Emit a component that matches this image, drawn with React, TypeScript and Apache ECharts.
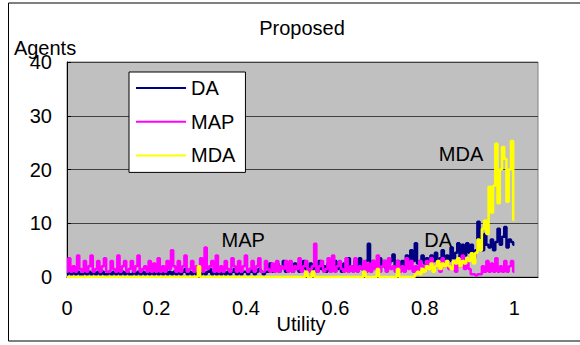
import React, { useEffect, useRef } from "react";
import * as echarts from "echarts";

// Utility grid: 201 bins from 0 to 1 (step 0.005)
const binCount = 201;

// Number of agents per utility bin
const DA = [
  0.5, 1, 0.5, 1, 0.5, 1, 0.5, 0.5, 1, 0.5,
  1, 0.5, 1, 0.5, 1, 0.5, 1, 0.5, 0.5, 1,
  0.5, 1, 0.5, 1, 0.5, 1, 0.5, 1, 0.5, 0.5,
  1, 0.5, 1, 0.5, 1, 0.5, 1, 0.5, 1, 0.5,
  1, 0.5, 1, 0.5, 1.5, 0.5, 1, 0.5, 1, 0.5,
  1, 0.5, 1, 1.5, 0.5, 1, 0.5, 1, 0.5, 1,
  0.5, 1, 0.5, 1, 1.5, 0.5, 1, 0.5, 1, 0.5,
  1, 0.5, 1, 0.5, 1, 1.5, 0.5, 1, 0.5, 1,
  1, 0.5, 1.5, 1, 0.5, 1, 1.5, 1, 0.5, 1,
  1, 2.5, 1, 1.5, 2.5, 1, 2, 3, 1, 1.5,
  2, 1, 2.5, 1.5, 1, 2, 3, 1.5, 1, 2.5,
  1.5, 2, 1, 3, 1.5, 2, 1, 2.5, 1.5, 2,
  3, 1.5, 2, 1, 2.5, 1.5, 3.5, 2, 1.5, 3,
  2, 3.5, 1.5, 2, 3, 6.2, 2, 3, 1.5, 2.5,
  3.5, 2, 3, 1.5, 2.5, 3, 4.2, 2, 3, 2,
  3, 2, 4, 2.5, 5, 3, 6.3, 2.5, 3, 4,
  2.5, 3.5, 2, 4, 3, 4.5, 2.5, 3.5, 5, 3,
  4, 3, 5.5, 3.5, 4.5, 6.3, 3.5, 6, 4, 6.3,
  4.5, 6, 3.5, 5, 10.3, 7, 5, 8, 6, 5.5,
  7, 5, 6.5, 9, 6, 7.5, 9.3, 5.5, 7, 6.5,
  6,
];

const MAP = [
  1, 3.5, 1, 2, 1, 4, 1.5, 1, 3, 1,
  2, 4, 1, 1.5, 3, 1, 2, 3.5, 1, 1,
  3, 1.5, 1, 4, 1, 2, 3, 1, 1.5, 3,
  1, 2, 4, 1, 1.5, 2, 1, 3, 1, 2.5,
  1, 3.5, 1, 2, 1, 3, 1.5, 5, 2, 1,
  3, 1, 2, 4, 1, 1.5, 3, 1, 2, 1,
  3.5, 1, 5.5, 1.5, 2, 3, 1, 4, 1, 2,
  1, 3, 1.5, 1, 3.5, 2, 1, 3, 1, 2,
  4, 1, 1.5, 3, 1, 2, 3.5, 1, 1, 3,
  1.5, 1, 2.5, 1, 3, 1, 2, 1.5, 3, 1,
  3, 1, 2, 1.5, 3.5, 1, 2, 3, 1, 1.5,
  2, 6.2, 1, 2, 3, 1, 1.5, 3.5, 1, 4,
  1, 2, 3, 1.5, 1, 3.5, 1, 2, 1, 3.5,
  1, 2, 1.5, 3, 1, 2.5, 1, 3, 1.5, 4,
  1, 2, 3, 1, 3.5, 1.5, 2, 1, 3, 1,
  2, 1, 3.5, 1.5, 3, 1, 2, 1, 3, 2,
  1, 3, 2, 3.5, 1.5, 2, 3, 1, 3.5, 2,
  3, 1.5, 2, 3, 1, 3.5, 2, 4, 1.5, 3,
  1.5, 0.5, 0.5, 0.3, 0.5, 0.5, 2, 1, 3, 1,
  2.5, 1, 3.5, 1, 2, 1, 3, 1, 2, 3,
  1,
];

const MDA = [
  0, 0, 0, 0, 0, 0, 0, 0, 0, 0,
  0, 0, 0, 0, 0, 0, 0, 0, 0, 0,
  0, 0, 0, 0, 0, 0, 0, 0, 0, 0,
  0, 0, 0, 0, 0, 0, 0, 0, 0, 0,
  0, 0, 0, 0, 0, 0, 0, 0, 0, 0,
  0, 0, 0, 0, 0, 0, 0, 0, 0, 2,
  0, 0, 0, 0, 0, 0, 0, 0, 0, 0,
  0, 0, 0, 0, 0, 0, 0, 0, 0, 0,
  0, 0, 0, 0, 0, 0, 0, 0, 0, 0,
  0, 0, 0, 0, 0, 0, 0, 0, 0, 0,
  0, 0, 0, 0, 0, 0, 0, 1, 0, 0,
  1, 0, 0, 0, 0, 0, 0, 0, 0, 0,
  0, 0, 0, 0, 0, 0, 0, 0, 0, 0,
  0, 0, 0, 1, 0, 0, 0, 0, 0, 1.5,
  0, 0, 0, 0, 0, 0, 0, 0, 1.5, 0,
  0, 0, 0, 0, 0, 0, 0.5, 1, 0.5, 1.5,
  1, 2, 1.5, 2.5, 1, 2, 3, 1.5, 2.5, 2,
  3, 2, 1.5, 3, 2.5, 3.5, 2, 3, 2.5, 3.5,
  3, 4.4, 2.5, 4.5, 7, 5, 9, 10.5, 8, 16.8,
  12, 17, 24.8, 13.7, 20, 24.2, 22, 14, 20, 25.3,
  10.6,
];

const seriesNames = ["DA", "MAP", "MDA"];
const seriesColors = ["#000080", "#ff00ff", "#ffff00"];
const yTicks = { min: 0, max: 40, interval: 10 };
const xTickStep = 0.2;

export default function App() {
  const ref = useRef<HTMLDivElement>(null);

  useEffect(() => {
    if (!ref.current) return;
    const chart = echarts.init(ref.current, null, { renderer: "svg" });
    const utility = Array.from({ length: binCount }, (_, i) => Math.round(i * 5) / 1000);
    const pairs = (arr: number[]) => arr.map((v, i) => [utility[i], v]);
    const font = "'Liberation Sans', Arial, sans-serif";
    const dataSets = [DA, MAP, MDA];

    chart.setOption({
      animation: false,
      backgroundColor: "#ffffff",
      textStyle: { fontFamily: font },
      grid: {
        left: 67,
        top: 62,
        right: 42,
        bottom: 68,
        show: true,
        backgroundColor: "#c0c0c0",
        borderColor: "#808080",
        borderWidth: 1,
      },
      xAxis: {
        type: "value",
        min: 0,
        max: 1.053,
        interval: xTickStep,
        axisLine: { show: true, onZero: false, lineStyle: { color: "#000", width: 1 } },
        axisTick: { show: false },
        splitLine: { show: false },
        axisLabel: {
          margin: 21,
          fontSize: 20,
          color: "#000",
          fontFamily: font,
          formatter: (v: number) =>
            Math.abs(v / xTickStep - Math.round(v / xTickStep)) < 1e-6 ? String(+v.toFixed(1)) : "",
        },
      },
      yAxis: {
        type: "value",
        min: yTicks.min,
        max: yTicks.max,
        interval: yTicks.interval,
        axisLine: { show: true, lineStyle: { color: "#000", width: 1 } },
        axisTick: { show: true, inside: true, length: 4, lineStyle: { color: "#000" } },
        splitLine: { show: true, lineStyle: { color: "#404040", width: 1 } },
        axisLabel: { margin: 15, fontSize: 20, color: "#000", fontFamily: font },
      },
      legend: {
        orient: "vertical",
        left: 129,
        top: 72,
        padding: [6, 10, 7, 7],
        itemGap: 13.7,
        itemWidth: 50,
        itemHeight: 2,
        backgroundColor: "#ffffff",
        borderColor: "#000000",
        borderWidth: 1,
        textStyle: { fontSize: 20, color: "#000", fontFamily: font },
        data: seriesNames.map((n) => ({ name: n, icon: "rect" })),
      },
      series: seriesNames.map((name, k) => ({
        name,
        type: "line",
        step: "middle",
        data: pairs(dataSets[k]),
        showSymbol: false,
        symbol: "none",
        color: seriesColors[k],
        lineStyle: { color: seriesColors[k], width: 2.5 },
        itemStyle: { color: seriesColors[k] },
        z: 2 + k,
        ...(k === 2
          ? {
              markPoint: {
                symbol: "circle",
                symbolSize: 1,
                itemStyle: { color: "rgba(0,0,0,0)" },
                label: {
                  show: true,
                  position: "inside",
                  color: "#000",
                  fontSize: 20,
                  fontFamily: font,
                  formatter: "{b}",
                },
                data: [
                  { name: "MAP", coord: [0.394, 6.8] },
                  { name: "DA", coord: [0.83, 6.9] },
                  { name: "MDA", coord: [0.881, 22.9] },
                ],
              },
            }
          : {}),
      })),
      graphic: [
        {
          type: "rect",
          silent: true,
          shape: { x: 8.5, y: 3, width: 600, height: 338 },
          style: { fill: "none", stroke: "#000", lineWidth: 1 },
        },
        {
          type: "text",
          x: 302,
          y: 28,
          style: {
            text: "Proposed",
            fill: "#000",
            font: `20px ${font}`,
            align: "center",
            verticalAlign: "middle",
          },
        },
        {
          type: "text",
          x: 45,
          y: 48,
          style: {
            text: "Agents",
            fill: "#000",
            font: `20px ${font}`,
            align: "center",
            verticalAlign: "middle",
          },
        },
        {
          type: "text",
          x: 301,
          y: 324,
          style: {
            text: "Utility",
            fill: "#000",
            font: `20px ${font}`,
            align: "center",
            verticalAlign: "middle",
          },
        },
      ],
    });

    return () => chart.dispose();
  }, []);

  return (
    <div
      ref={ref}
      style={{ position: "absolute", left: 0, top: 0, width: 580, height: 345 }}
    />
  );
}
